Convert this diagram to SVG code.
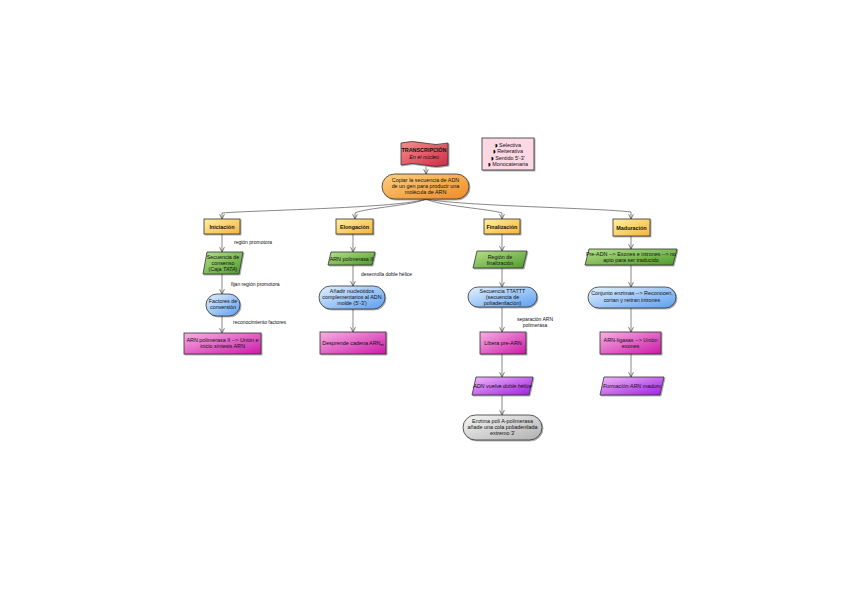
<svg xmlns="http://www.w3.org/2000/svg" width="848" height="595" viewBox="0 0 848 595">
<defs>
<linearGradient id="gY" x1="0" y1="0" x2="1" y2="1"><stop offset="0" stop-color="#fff0a0"/><stop offset="1" stop-color="#f5b43c"/></linearGradient>
<linearGradient id="gG" x1="0" y1="0" x2="1" y2="1"><stop offset="0" stop-color="#b6e08a"/><stop offset="1" stop-color="#4e9a2a"/></linearGradient>
<linearGradient id="gB" x1="0" y1="0" x2="1" y2="1"><stop offset="0" stop-color="#e4f2ff"/><stop offset="1" stop-color="#5c9ef0"/></linearGradient>
<linearGradient id="gM" x1="0" y1="0" x2="1" y2="1"><stop offset="0" stop-color="#f8b0e4"/><stop offset="1" stop-color="#cc1aa8"/></linearGradient>
<linearGradient id="gP" x1="0" y1="0" x2="1" y2="1"><stop offset="0" stop-color="#f0b8fa"/><stop offset="1" stop-color="#a01ee0"/></linearGradient>
<linearGradient id="gO" x1="0" y1="0" x2="1" y2="1"><stop offset="0" stop-color="#fdd080"/><stop offset="1" stop-color="#ee8a26"/></linearGradient>
<linearGradient id="gR" x1="0" y1="0" x2="1" y2="1"><stop offset="0" stop-color="#fc8c8c"/><stop offset="1" stop-color="#cc2c44"/></linearGradient>
<linearGradient id="gS" x1="0" y1="0" x2="1" y2="1"><stop offset="0" stop-color="#f6f6f6"/><stop offset="1" stop-color="#b0b0b0"/></linearGradient>
<marker id="ar" viewBox="0 0 10 10" refX="9" refY="5" markerWidth="6" markerHeight="6" orient="auto" markerUnits="userSpaceOnUse"><path d="M1,1 L9,5 L1,9" fill="none" stroke="#444" stroke-width="1.2"/></marker>
<filter id="sh" x="-10%" y="-10%" width="130%" height="140%"><feDropShadow dx="1" dy="1" stdDeviation="0.6" flood-color="#000" flood-opacity="0.35"/></filter>
</defs>
<style>
.n{stroke:#333;stroke-width:0.8;filter:url(#sh)}
.t{font-family:"Liberation Sans",Arial,sans-serif;font-size:5.4px;fill:#111;text-anchor:middle}
.b{font-weight:bold}
.i{font-style:italic}
.l{font-family:"Liberation Sans",Arial,sans-serif;font-size:5px;fill:#111}
.c{fill:none;stroke:#555;stroke-width:0.7}
.bu{font-family:"DejaVu Sans",sans-serif;font-size:5px}
</style>
<rect width="848" height="595" fill="#fff"/>
<g id="connectors">
<path class="c" marker-end="url(#ar)" d="M426,167 L426,174"/>
<path class="c" marker-end="url(#ar)" d="M426,199 C400,208 260,210 222,213 L222,219"/>
<path class="c" marker-end="url(#ar)" d="M426,199 C415,205 365,208 355,213 L355,219"/>
<path class="c" marker-end="url(#ar)" d="M426,199 C440,206 490,209 502,213 L502,219"/>
<path class="c" marker-end="url(#ar)" d="M426,199 C460,206 600,208 631,212 L631,219"/>
<path class="c" marker-end="url(#ar)" d="M222,234 L222,252"/>
<path class="c" marker-end="url(#ar)" d="M222,274 L222,294"/>
<path class="c" marker-end="url(#ar)" d="M222,316 L222,333"/>
<path class="c" marker-end="url(#ar)" d="M353,234 L353,252"/>
<path class="c" marker-end="url(#ar)" d="M353,265 L353,286"/>
<path class="c" marker-end="url(#ar)" d="M353,309 L353,332"/>
<path class="c" marker-end="url(#ar)" d="M502,234 L502,251"/>
<path class="c" marker-end="url(#ar)" d="M502,268 L502,287"/>
<path class="c" marker-end="url(#ar)" d="M502,307 L502,332"/>
<path class="c" marker-end="url(#ar)" d="M502,354 L502,377"/>
<path class="c" marker-end="url(#ar)" d="M502,395 L502,415"/>
<path class="c" marker-end="url(#ar)" d="M631,236 L631,249"/>
<path class="c" marker-end="url(#ar)" d="M631,265 L631,287"/>
<path class="c" marker-end="url(#ar)" d="M631,308 L631,332"/>
<path class="c" marker-end="url(#ar)" d="M631,354 L631,377"/>
<text class="l" x="234" y="244">región promotora</text>
<text class="l" x="231" y="286">fijan región promotora</text>
<text class="l" x="233" y="324">reconocimiento factores</text>
<text class="l" x="361" y="276">desenrolla doble hélice</text>
<text class="l" x="535" y="321" text-anchor="middle">separación ARN</text>
<text class="l" x="535" y="327" text-anchor="middle">polimerasa</text>
</g>
<g id="title">
<path class="n" fill="url(#gR)" d="M401,143 Q412,140 424,143 Q436,146 448,143 L448,165 Q436,168 424,165 Q412,162 401,165 Z"/>
<text class="t b" x="424" y="152">TRANSCRIPCIÓN</text>
<text class="t i" x="424" y="159">En el núcleo</text>
</g>
<g id="props">
<rect class="n" x="482" y="138" width="52" height="32" fill="#fcd8e4"/>
<text class="t" x="508" y="146.5"><tspan class="bu">◗</tspan> Selectiva</text>
<text class="t" x="508" y="153"><tspan class="bu">◗</tspan> Reiterativa</text>
<text class="t" x="508" y="159.5"><tspan class="bu">◗</tspan> Sentido 5'-3'</text>
<text class="t" x="508" y="166"><tspan class="bu">◗</tspan> Monocatenaria</text>
</g>
<g id="copiar">
<rect class="n" x="382" y="174" width="87" height="25" rx="12.5" fill="url(#gO)"/>
<text class="t" x="425.5" y="182">Copiar la secuencia de ADN</text>
<text class="t" x="425.5" y="188">de un gen para producir una</text>
<text class="t" x="425.5" y="194">molécula de ARN</text>
</g>
<g id="iniciacion">
<rect class="n" x="204" y="219" width="36" height="15" fill="url(#gY)"/>
<text class="t b" x="222" y="228.5">Iniciación</text>
</g>
<g id="consenso">
<path class="n" fill="url(#gG)" d="M207,252 L243,252 L239,274 L203,274 Z"/>
<text class="t" x="223" y="258.5">Secuencia de</text>
<text class="t" x="223" y="264.5">consenso</text>
<text class="t" x="223" y="270.5">(Caja <tspan class="i">TATA</tspan>)</text>
</g>
<g id="factores">
<rect class="n" x="206" y="294" width="34" height="22" rx="11" fill="url(#gB)"/>
<text class="t" x="223" y="303">Factores de</text>
<text class="t" x="223" y="309">conversión</text>
</g>
<g id="arnpol">
<rect class="n" x="184" y="333" width="77" height="21" fill="url(#gM)"/>
<text class="t" x="222.5" y="342">ARN polimerasa II --&gt; Unión e</text>
<text class="t" x="222.5" y="348">inicio síntesis ARN</text>
</g>
<g id="elongacion">
<rect class="n" x="336" y="219" width="37" height="15" fill="url(#gY)"/>
<text class="t b" x="354.5" y="228.5">Elongación</text>
</g>
<g id="arnpol2">
<path class="n" fill="url(#gG)" d="M331,252 L375,252 L372,265 L328,265 Z"/>
<text class="t" x="351.5" y="260.5">ARN polimerasa II</text>
</g>
<g id="anadir">
<rect class="n" x="319" y="286" width="66" height="23" rx="11.5" fill="url(#gB)"/>
<text class="t" x="352" y="293">Añadir nucleótidos</text>
<text class="t" x="352" y="299">complementarios al ADN</text>
<text class="t" x="352" y="305">molde (5'-3')</text>
</g>
<g id="desprende">
<rect class="n" x="320" y="332" width="66" height="22" fill="url(#gM)"/>
<text class="t" x="353" y="345">Desprende cadena ARN<tspan font-size="3.8px" dy="1">m</tspan></text>
</g>
<g id="finalizacion">
<rect class="n" x="484" y="219" width="36" height="15" fill="url(#gY)"/>
<text class="t b" x="502" y="228.5">Finalización</text>
</g>
<g id="region">
<path class="n" fill="url(#gG)" d="M477,251 L527,251 L523,268 L473,268 Z"/>
<text class="t" x="500" y="258.5">Región de</text>
<text class="t" x="500" y="264.5">finalización</text>
</g>
<g id="ttattt">
<rect class="n" x="468" y="287" width="69" height="20" rx="10" fill="url(#gB)"/>
<text class="t" x="502.5" y="293">Secuencia TTATTT</text>
<text class="t" x="502.5" y="299">(secuencia de</text>
<text class="t" x="502.5" y="305">poliadenilación)</text>
</g>
<g id="libera">
<rect class="n" x="480" y="332" width="46" height="22" fill="url(#gM)"/>
<text class="t" x="503" y="345">Libera pre-ARN</text>
</g>
<g id="vuelve">
<path class="n" fill="url(#gP)" d="M476,377 L533,377 L529,395 L472,395 Z"/>
<text class="t i" x="502.5" y="388">ADN vuelve doble hélice</text>
</g>
<g id="enzima">
<rect class="n" x="463" y="415" width="79" height="25" rx="12.5" fill="url(#gS)"/>
<text class="t" x="502.5" y="423">Enzima poli A-polimerasa</text>
<text class="t" x="502.5" y="429">añade una cola poliadenilada</text>
<text class="t" x="502.5" y="435">extremo 3'</text>
</g>
<g id="maduracion">
<rect class="n" x="613" y="219" width="37" height="17" fill="url(#gY)"/>
<text class="t b" x="631.5" y="229.5">Maduración</text>
</g>
<g id="preadn">
<path class="n" fill="url(#gG)" d="M589,249 L677,249 L673,265 L585,265 Z"/>
<text class="t" x="631" y="256">Pre-ADN --&gt; Exones e intrones --&gt; no</text>
<text class="t" x="631" y="262">apto para ser traducido</text>
</g>
<g id="conjunto">
<rect class="n" x="588" y="287" width="88" height="21" rx="10.5" fill="url(#gB)"/>
<text class="t" x="632" y="295">Conjunto enzimas --&gt; Reconocen,</text>
<text class="t" x="632" y="301.5">cortan y retiran intrones</text>
</g>
<g id="ligasas">
<rect class="n" x="600" y="332" width="61" height="22" fill="url(#gM)"/>
<text class="t" x="630.5" y="341.5">ARN-ligasas --&gt; Unión</text>
<text class="t" x="630.5" y="347.5">exones</text>
</g>
<g id="maduro">
<path class="n" fill="url(#gP)" d="M604,377 L664,377 L660,395 L600,395 Z"/>
<text class="t i" x="632" y="388">Formación ARN maduro</text>
</g>
</svg>
